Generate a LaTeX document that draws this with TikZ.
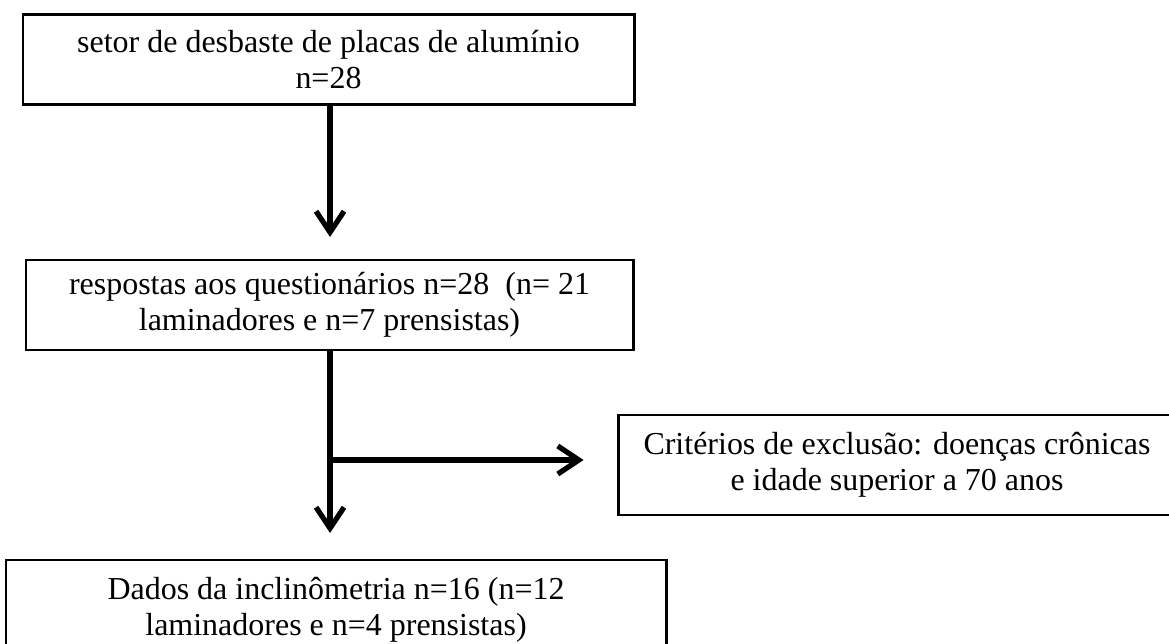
\documentclass[tikz,border=0pt]{standalone}
\usepackage{fontspec}
\setmainfont{Liberation Serif}
\usetikzlibrary{arrows.meta, positioning}

\tikzset{
    caixa/.style={draw, line width=1.7pt, align=center, inner sep=0pt,
        font=\fontsize{18.2}{20.5}\selectfont},
    seta/.style={line width=3.2pt, -{Straight Barb[length=4.2mm, width=5.6mm, line width=3pt]}}
}

\begin{document}
\begin{tikzpicture}[x=0.02cm, y=-0.02cm]
    % Area da figura
    \useasboundingbox (0,0) rectangle (1169,644);
    \clip (0,0) rectangle (1169,644);
    % Caixas
    \node[caixa, minimum width=611*0.02cm, minimum height=90*0.02cm] (setor) at (328.5,60)
        {setor de desbaste de placas de alumínio\\ n=28};
    \node[caixa, minimum width=607*0.02cm, minimum height=90*0.02cm] (respostas) at (329.5,305)
        {respostas aos questionários n=28~~(n= 21\\ laminadores e n=7 prensistas)};
    \node[caixa, minimum width=558*0.02cm, minimum height=100*0.02cm] (exclusao) at (897,465)
        {Critérios de exclusão: doenças crônicas\\ e idade superior a 70 anos};
    \node[caixa, minimum width=660*0.02cm, minimum height=100*0.02cm] (dados) at (336,610)
        {Dados da inclinômetria n=16 (n=12\\ laminadores e n=4 prensistas)};
    % Setas
    \coordinate (ponta1) at (330,237);
    \coordinate (ponta2) at (330,533);
    \coordinate (ramo) at (330,460);
    \draw[seta] (setor.south -| ponta1) -- (ponta1);
    \draw[seta] (respostas.south -| ponta2) -- (ponta2);
    \draw[seta, shorten >=0.66cm] (ramo) -- (ramo -| exclusao.west);
\end{tikzpicture}
\end{document}
